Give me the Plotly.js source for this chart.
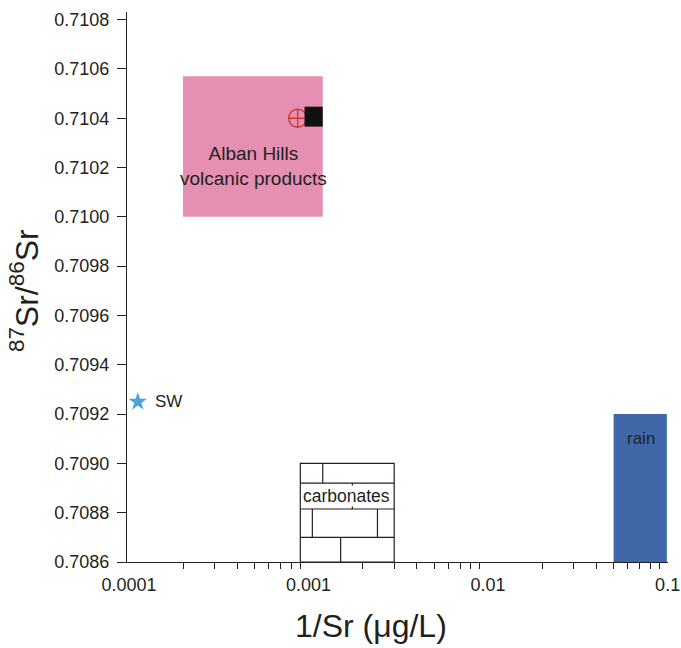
<!DOCTYPE html>
<html>
<head>
<meta charset="utf-8">
<script src="https://cdn.plot.ly/plotly-3.0.1.min.js"></script>
<style>html,body{margin:0;padding:0;background:#fff;}#chart{width:681px;height:648px;}</style>
</head>
<body>
<div id="chart"></div>
<script>
// ---- data ----
var xTickVals = [0.0001, 0.001, 0.01, 0.1];
var xTickText = ['0.0001', '0.001', '0.01', '0.1'];
var yTickVals = [0.7086, 0.7088, 0.7090, 0.7092, 0.7094, 0.7096, 0.7098, 0.7100, 0.7102, 0.7104, 0.7106, 0.7108];

// Alban Hills volcanic products field
var albanX = [0.0002, 0.0012];
var albanY = [0.7100, 0.71057];
var albanLabel = 'Alban Hills<br>volcanic products';
var albanLabelPos = [0.000494, 0.710207];

// sample inside the Alban Hills field
var sampleX = [0.00087];
var sampleY = [0.7104];
var blackBoxX = [0.00095, 0.0012];
var blackBoxY = [0.710366, 0.710447];

// sea water
var swX = [0.000112];
var swY = [0.70925];
var swLabel = 'SW';
var swLabelPos = [0.000136, 0.70925];

// carbonates field (brick pattern)
var carbX = [0.0009, 0.003];
var carbRows = [0.7086, 0.7087, 0.708815, 0.70892, 0.7090];
// vertical joints per row, bottom row first
var carbJoints = [[0.00151], [0.00105, 0.00242], [0.001754], [0.0012]];
var carbLabel = 'carbonates';
var carbLabelPos = [0.001626, 0.708868];

// rain field
var rainX = [0.05, 0.099];
var rainY = [0.7086, 0.7092];
var rainLabel = 'rain';
var rainLabelPos = [0.0708, 0.709103];

// ---- build ----
var ink = '#231f20';
var font = 'Arial, "Liberation Sans", sans-serif';

var minorVals = [];
for (var d = -4; d <= -2; d++) {
  for (var m = 2; m <= 9; m++) minorVals.push(m * Math.pow(10, d));
}

var shapes = [];
shapes.push({type: 'rect', layer: 'below', xref: 'x', yref: 'y',
  x0: albanX[0], x1: albanX[1], y0: albanY[0], y1: albanY[1],
  fillcolor: '#e590b2', line: {width: 0}});
shapes.push({type: 'rect', layer: 'below', xref: 'x', yref: 'y',
  x0: rainX[0], x1: rainX[1], y0: rainY[0], y1: rainY[1],
  fillcolor: '#4068a9', line: {width: 0}});
shapes.push({type: 'rect', layer: 'above', xref: 'x', yref: 'y',
  x0: blackBoxX[0], x1: blackBoxX[1], y0: blackBoxY[0], y1: blackBoxY[1],
  fillcolor: '#111111', line: {width: 0}});
// carbonates outline
shapes.push({type: 'rect', layer: 'above', xref: 'x', yref: 'y',
  x0: carbX[0], x1: carbX[1], y0: carbRows[0], y1: carbRows[carbRows.length - 1],
  fillcolor: 'rgba(0,0,0,0)', line: {color: ink, width: 1.2}});
for (var r = 1; r < carbRows.length - 1; r++) {
  shapes.push({type: 'line', layer: 'above', xref: 'x', yref: 'y',
    x0: carbX[0], x1: carbX[1], y0: carbRows[r], y1: carbRows[r],
    line: {color: ink, width: 1.2}});
}
for (var r2 = 0; r2 < carbJoints.length; r2++) {
  carbJoints[r2].forEach(function (jx) {
    shapes.push({type: 'line', layer: 'above', xref: 'x', yref: 'y',
      x0: jx, x1: jx, y0: carbRows[r2], y1: carbRows[r2 + 1],
      line: {color: ink, width: 1.2}});
  });
}

var traces = [
  {x: sampleX, y: sampleY, mode: 'markers', type: 'scatter', hoverinfo: 'skip',
   marker: {symbol: 'circle-cross-open', size: 18, color: '#d5302c', line: {width: 1.3, color: '#d5302c'}}},
  {x: swX, y: swY, mode: 'markers', type: 'scatter', hoverinfo: 'skip',
   marker: {symbol: 'star', size: 14, color: '#4aa3dc', line: {width: 0}}}
];

var annotations = [
  {x: Math.log10(albanLabelPos[0]), y: albanLabelPos[1], xref: 'x', yref: 'y', text: albanLabel,
   showarrow: false, font: {family: font, size: 19, color: ink}, align: 'center'},
  {x: Math.log10(swLabelPos[0]), y: swLabelPos[1], xref: 'x', yref: 'y', text: swLabel,
   showarrow: false, xanchor: 'left', font: {family: font, size: 17, color: ink}},
  {x: Math.log10(carbLabelPos[0]), y: carbLabelPos[1], xref: 'x', yref: 'y', text: carbLabel,
   showarrow: false, bgcolor: '#ffffff', borderpad: 0, font: {family: font, size: 17.5, color: ink}},
  {x: Math.log10(rainLabelPos[0]), y: rainLabelPos[1], xref: 'x', yref: 'y', text: rainLabel,
   showarrow: false, font: {family: font, size: 17, color: ink}},
  {x: -0.19, y: 0.493, xref: 'paper', yref: 'paper', text: '<sup>87</sup>Sr/<sup>86</sup>Sr',
   textangle: -90, showarrow: false, xanchor: 'center', yanchor: 'middle',
   font: {family: font, size: 32, color: ink}},
  {x: 0.451, y: -0.116, xref: 'paper', yref: 'paper', text: '1/Sr (\u03bcg/L)',
   showarrow: false, xanchor: 'center', yanchor: 'middle',
   font: {family: font, size: 32, color: ink}}
];

var layout = {
  width: 681, height: 648,
  margin: {l: 127, r: 13, t: 12, b: 86, pad: 0},
  paper_bgcolor: '#ffffff', plot_bgcolor: '#ffffff',
  showlegend: false,
  font: {family: font, color: ink, size: 18},
  xaxis: {
    type: 'log', range: [-4.011, -0.998],
    tickmode: 'array', tickvals: xTickVals, ticktext: xTickText,
    ticks: 'outside', ticklen: 6, tickcolor: 'rgba(0,0,0,0)',
    ticklabeloverflow: 'allow',
    showline: true, linecolor: ink, linewidth: 1, showgrid: false, zeroline: false,
    tickfont: {family: font, size: 18, color: ink},
    minor: {tickmode: 'array', tickvals: minorVals, ticks: 'outside', ticklen: 6, tickcolor: ink, tickwidth: 1, showgrid: false}
  },
  yaxis: {
    range: [0.7086, 0.710831],
    tickmode: 'array', tickvals: yTickVals, tickformat: '.4f',
    ticks: 'outside', ticklen: 9, tickcolor: ink, tickwidth: 1,
    ticklabelstandoff: 4,
    showline: true, linecolor: ink, linewidth: 1, showgrid: false, zeroline: false,
    tickfont: {family: font, size: 18, color: ink}
  },
  shapes: shapes,
  annotations: annotations
};

Plotly.newPlot('chart', traces, layout, {staticPlot: true, displayModeBar: false});
</script>
</body>
</html>
